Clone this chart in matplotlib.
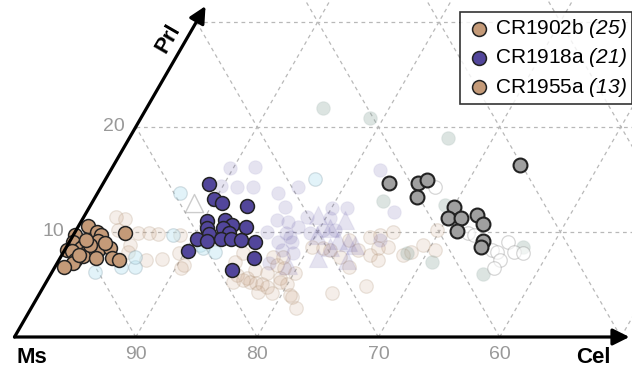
import numpy as np
import matplotlib.pyplot as plt

plt.rcParams['font.family'] = ['Liberation Sans', 'DejaVu Sans']
plt.rcParams['mathtext.fontset'] = 'custom'
plt.rcParams['mathtext.sf'] = 'Liberation Sans:italic'
plt.rcParams['mathtext.rm'] = 'Liberation Sans'

# compositions in % : (Cel, Prl), Ms is the rest
cr1902b_cel = [0.8, 0.1, 1.8, 2.3, 4.2, 0.3, 1.3, 2.3, 0.2, 1.2, 1.9, 2.7, 3.6,
               0.6, 1.8, 1.3, 3.0, 4.3, 5.0, 1.3, 0.7, 1.8, 1.3, 3.0, 1.4]
cr1902b_prl = [10.6, 9.7, 10.0, 9.7, 9.9, 9.0, 8.8, 9.1, 8.3, 8.5, 8.3, 8.3, 8.5,
               8.2, 7.7, 7.3, 7.5, 7.5, 7.3, 7.0, 6.7, 8.8, 9.2, 8.9, 7.8]

cr1918a_cel = [8.7, 9.9, 10.7, 12.9, 10.4, 11.8, 12.6, 10.7, 11.1, 12.0, 12.7,
               13.8, 10.4, 11.3, 12.4, 13.2, 14.1, 15.3, 10.2, 16.0, 14.7]
cr1918a_prl = [14.6, 13.1, 12.8, 12.5, 11.0, 11.1, 10.7, 10.4, 9.8, 10.4, 9.9,
               10.5, 9.3, 9.1, 9.3, 9.3, 9.2, 9.0, 8.2, 7.5, 6.4]

cr1955a_cel = [33.5, 23.5, 25.9, 26.6, 26.5, 30.0, 30.1, 31.2, 31.4, 32.3, 33.2, 34.1, 34.2]
cr1955a_prl = [16.4, 14.7, 14.7, 14.9, 13.3, 12.4, 11.3, 11.3, 10.1, 11.6, 10.8, 9.1, 8.6]

# other samples, drawn faded
beige_cel = [2.7, 3.5, 3.4, 5.2, 6.1, 6.9, 5.1, 5.3, 7.2, 8.5, 9.6, 10.4, 14.6, 15.4,
             16.4, 17.4, 17.8, 18.4, 19.1, 20.0, 20.1, 17.5, 18.3, 16.6, 14.8, 15.4,
             16.1, 16.8, 17.9, 17.9, 19.1, 21.0, 21.8, 18.2, 24.1, 26.5, 20.7, 19.3,
             18.9, 24.6, 25.3, 26.2, 26.5, 25.7, 25.4, 26.3, 23.0, 24.2, 24.2, 23.0,
             21.9, 20.2, 21.2, 28.1, 28.6, 29.3, 30.5, 29.7, 10.5, 8.8]
beige_prl = [11.4, 11.2, 10.2, 9.9, 9.9, 9.8, 8.8, 8.1, 7.3, 7.4, 8.0, 6.6, 7.1, 5.9,
             5.6, 5.1, 6.1, 4.8, 5.6, 5.0, 6.1, 7.6, 7.6, 6.4, 8.0, 5.2,
             5.4, 5.2, 5.0, 4.3, 4.2, 3.8, 2.8, 6.9, 4.2, 4.9, 4.0, 5.2,
             6.6, 9.5, 9.7, 10.0, 8.6, 8.5, 7.8, 7.3, 9.2, 8.3, 6.7, 7.6,
             8.3, 8.6, 8.5, 7.8, 8.1, 8.8, 8.3, 10.2, 6.9, 9.7]

lav_cel = [9.7, 11.7, 9.8, 11.2, 12.5, 14.9, 16.1, 16.1, 17.1, 15.8, 17.4, 18.4,
           17.2, 17.5, 22.2, 16.2, 20.0, 21.3, 25.3, 18.4, 20.4, 18.1, 19.4, 20.3,
           21.3, 18.0, 17.9, 19.0, 25.5]
lav_prl = [16.1, 16.2, 14.4, 14.3, 14.3, 13.7, 12.4, 11.1, 10.9, 10.0, 9.9, 9.0,
           9.0, 7.0, 15.9, 14.3, 12.3, 12.3, 11.9, 11.4, 11.3, 10.5, 9.9, 10.2,
           10.2, 9.5, 8.3, 8.0, 9.2]

lav_tri_cel = [19.2, 21.7, 20.8, 20.1, 22.1, 23.0, 23.7, 21.3, 23.8, 19.1, 21.7]
lav_tri_prl = [11.6, 11.1, 10.4, 9.7, 9.2, 9.0, 8.8, 7.5, 7.3, 6.9, 8.6]

white_tri_cel = [8.4]
white_tri_prl = [12.8]

cyan_cel = [6.8, 8.2, 10.9, 5.4, 6.6, 3.5, 6.1, 17.3, 11.3, 12.5]
cyan_prl = [13.7, 9.7, 8.8, 6.7, 6.7, 6.2, 7.6, 15.0, 8.5, 8.1]

green_cel = [14.5, 18.9, 26.3, 23.9, 30.9, 35.6, 37.6, 28.4, 29.2]
green_prl = [21.8, 20.8, 18.9, 12.9, 7.1, 6.0, 8.6, 8.0, 12.6]

white_cel = [27.5, 32.4, 33.0, 35.2, 35.7, 36.2, 37.1, 36.4, 36.2, 37.9]
white_prl = [14.3, 9.9, 9.7, 8.3, 8.1, 9.0, 8.1, 7.3, 6.6, 8.0]

legend_labels = ['CR1902b', 'CR1918a', 'CR1955a']
legend_counts = [25, 21, 13]

tan = '#c49a78'
purple = '#52469b'
grey = '#a0a0a0'
h = np.sqrt(3) / 2


def tern(cel, prl):
    cel = np.asarray(cel, float)
    prl = np.asarray(prl, float)
    return cel + prl / 2, prl * h


fig = plt.figure(figsize=(6.32, 3.74), dpi=100)
ax = fig.add_axes([0, 0, 1, 1])
ax.set_xlim(-1.195, 50.91)
ax.set_ylim(-3.05, 27.78)
ax.axis('off')

# dashed grid of the ternary diagram
grid_kw = dict(color='#b8b8b8', lw=0.9, ls=(0, (3, 3)), zorder=1)
for v in range(10, 100, 10):
    # constant Prl
    x, y = tern([0, 100 - v], [v, v])
    ax.plot(x, y, **grid_kw)
    # constant Cel
    x, y = tern([v, v], [0, 100 - v])
    ax.plot(x, y, **grid_kw)
    # constant Ms
    x, y = tern([100 - v, 0], [0, 100 - v])
    ax.plot(x, y, **grid_kw)

# faded background samples
bg = dict(s=95, zorder=2, linewidths=0.9)
x, y = tern(beige_cel, beige_prl)
ax.scatter(x, y, facecolor=(0.77, 0.60, 0.47, 0.16), edgecolor=(0.7, 0.6, 0.5, 0.25), **bg)
x, y = tern(lav_cel, lav_prl)
ax.scatter(x, y, facecolor=(0.32, 0.27, 0.61, 0.15), edgecolor=(0.32, 0.27, 0.61, 0.06), **bg)
x, y = tern(cyan_cel, cyan_prl)
ax.scatter(x, y, facecolor=(0.75, 0.9, 0.95, 0.45), edgecolor=(0.5, 0.6, 0.65, 0.3), **bg)
x, y = tern(green_cel, green_prl)
ax.scatter(x, y, facecolor=(0.55, 0.65, 0.62, 0.3), edgecolor=(0.55, 0.65, 0.62, 0.15), **bg)
x, y = tern(white_cel, white_prl)
ax.scatter(x, y, facecolor=(1, 1, 1, 0.6), edgecolor=(0.55, 0.55, 0.55, 0.35), **bg)
x, y = tern(lav_tri_cel, lav_tri_prl)
ax.scatter(x, y, marker='^', s=170, facecolor=(0.32, 0.27, 0.61, 0.15),
           edgecolor=(0.32, 0.27, 0.61, 0.08), zorder=2, linewidths=0.9)
x, y = tern(white_tri_cel, white_tri_prl)
ax.scatter(x, y, marker='^', s=170, facecolor=(1, 1, 1, 0.6),
           edgecolor=(0.5, 0.5, 0.5, 0.4), zorder=2, linewidths=1.0)

# highlighted samples
fg = dict(s=100, edgecolor='#222222', linewidths=1.1, zorder=5)
handles = []
x, y = tern(cr1902b_cel, cr1902b_prl)
handles.append(ax.scatter(x, y, facecolor=tan, **fg))
x, y = tern(cr1918a_cel, cr1918a_prl)
handles.append(ax.scatter(x, y, facecolor=purple, **fg))
x, y = tern(cr1955a_cel, cr1955a_prl)
ax.scatter(x, y, facecolor=grey, edgecolor='#222222', linewidths=1.5, s=100, zorder=5)
handles.append(ax.scatter([], [], facecolor=tan, **fg))

# axes arrows
arrow_kw = dict(arrowstyle='-|>,head_length=1.0,head_width=0.5', color='black',
                lw=2.3, shrinkA=0, shrinkB=0)
ax.annotate('', xy=tern(50.7, 0), xytext=tern(0, 0), arrowprops=arrow_kw, zorder=6)
ax.annotate('', xy=tern(0, 31.5), xytext=tern(0, 0), arrowprops=arrow_kw, zorder=6)

# tick labels
tick_col = '#999999'
for v in [90, 80, 70, 60]:
    x, y = tern(100 - v, 0)
    ax.text(x, y - 0.75, str(v), color=tick_col, fontsize=14, ha='center', va='top')
for v in [10, 20]:
    x, y = tern(0, v)
    ax.text(x - 0.9, y, str(v), color=tick_col, fontsize=14, ha='right', va='center')

ax.text(1.4, -1.65, 'Ms', fontsize=16, fontweight='bold', ha='center', va='center')
ax.text(47.7, -1.65, 'Cel', fontsize=16, fontweight='bold', ha='center', va='center')
ax.text(12.7, 24.6, 'Prl', fontsize=16, fontweight='bold', ha='center', va='center',
        rotation=60)

labels = [f'{n} $\\mathsf{{({c})}}$' for n, c in zip(legend_labels, legend_counts)]
leg = ax.legend(handles, labels, loc='upper right', bbox_to_anchor=(1.0, 0.968),
                fontsize=15, frameon=True, fancybox=False, edgecolor='black',
                handletextpad=0.05, borderpad=0.25, labelspacing=0.3,
                handlelength=1.4, borderaxespad=0.0)
leg.get_frame().set_linewidth(1.2)
leg.set_zorder(10)

fig.savefig('out.png', dpi=100)
